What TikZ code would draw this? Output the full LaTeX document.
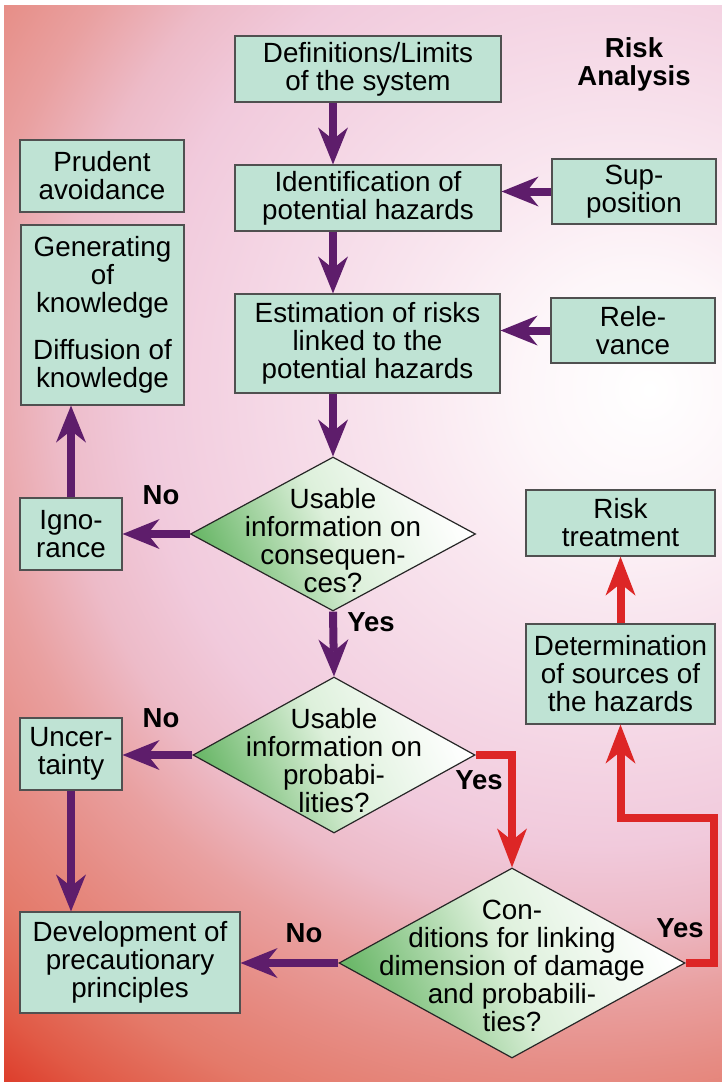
\documentclass[tikz,border=0pt]{standalone}
\usepackage{fontspec}
\setmainfont{Liberation Sans}
\usetikzlibrary{arrows.meta,shapes.geometric}
\definecolor{bgA}{HTML}{FFFFFF}
\definecolor{bgB}{HTML}{FDF6F9}
\definecolor{bgC}{HTML}{F9E6EF}
\definecolor{bgD}{HTML}{F5D8E6}
\definecolor{bgE}{HTML}{F1CADC}
\definecolor{bgF}{HTML}{EDBBC8}
\definecolor{bgG}{HTML}{E9A0A0}
\definecolor{bgH}{HTML}{E68C84}
\definecolor{bgI}{HTML}{E47A6A}
\definecolor{bgJ}{HTML}{E15A46}
\definecolor{bgK}{HTML}{DD3A28}
\definecolor{bgL}{HTML}{DC2A1C}
\definecolor{boxfill}{HTML}{BFE3D4}
\definecolor{boxline}{HTML}{505050}
\definecolor{dgreen}{HTML}{6CB86A}
\definecolor{dmid}{HTML}{DDF0DB}
\definecolor{arrpurple}{HTML}{5E1D6B}
\definecolor{arrred}{HTML}{DD2626}
\pgfdeclareradialshading{bgsh}{\pgfpoint{5bp}{-0.93bp}}{color(0bp)=(bgA); color(3bp)=(bgB); color(6bp)=(bgC); color(9bp)=(bgD); color(12bp)=(bgE); color(14bp)=(bgF); color(16bp)=(bgG); color(18bp)=(bgH); color(20bp)=(bgI); color(22bp)=(bgJ); color(23.5bp)=(bgK); color(25bp)=(bgL); color(50bp)=(bgL)}
\newcommand{\mainfs}{\fontsize{27.8}{28}\selectfont}
\newcommand{\labfs}{\fontsize{27.5}{28}\selectfont\bfseries}
\tikzset{
  box/.style={draw=boxline, line width=1.2pt, fill=boxfill, inner sep=0pt, align=center, font=\mainfs},
  dia/.style={diamond, draw=black!85, line width=1.2pt, inner sep=0pt, left color=dgreen, right color=white, middle color=dmid, shading angle=115},
  txt/.style={align=center, inner sep=0pt, font=\mainfs},
  lab/.style={inner sep=0pt, font=\labfs, align=center},
  parr/.style={draw=arrpurple, line width=8pt, -{Stealth[length=37pt,width=30pt,inset=12pt,line width=0pt]}},
  rarr/.style={draw=arrred, line width=8pt, line join=miter, -{Stealth[length=39pt,width=30pt,inset=12pt,line width=0pt]}}
}
\begin{document}
\begin{tikzpicture}[x=1pt,y=-1pt]
\useasboundingbox (0,0) rectangle (722,1082);
\fill[white] (0,0) rectangle (722,1082);
\begin{scope}
\clip (4,5) rectangle (722,1082);
\shade[shading=bgsh] (457,354) circle (965);
\end{scope}
% boxes
\node[box, minimum width=266, minimum height=66] (def) at (368,69) {Definitions/Limits\\of the system};
\node[box, minimum width=164, minimum height=72] (prud) at (102,176) {Prudent\\avoidance};
\node[box, minimum width=266, minimum height=66] (ident) at (368,198) {Identification of\\potential hazards};
\node[box, minimum width=164, minimum height=65] (sup) at (634,191.5) {Sup-\\position};
\node[box, minimum width=163, minimum height=180] (gen) at (102.5,315) {Generating\\of\\knowledge\\[19pt]Diffusion of\\knowledge};
\node[box, minimum width=265, minimum height=99] (est) at (367.5,343.5) {Estimation of risks\\linked to the\\potential hazards};
\node[box, minimum width=164, minimum height=65] (rel) at (633,330.5) {Rele-\\vance};
\node[box, minimum width=102, minimum height=72] (ign) at (71,534) {Igno-\\rance};
\node[box, minimum width=189, minimum height=66] (rt) at (620.5,523) {Risk\\treatment};
\node[box, minimum width=189, minimum height=100] (det) at (620.5,674) {Determination\\of sources of\\the hazards};
\node[box, minimum width=102, minimum height=72] (unc) at (71,754) {Uncer-\\tainty};
\node[box, minimum width=220, minimum height=101] (dev) at (130,962.5) {Development of\\precautionary\\principles};
% diamonds
\node[dia, minimum width=285, minimum height=154] (d1) at (333,534) {};
\node[txt] (d1t) at (333,541) {Usable\\information on\\consequen-\\ces?};
\node[dia, minimum width=282, minimum height=156] (d2) at (334,755) {};
\node[txt] (d2t) at (334,761) {Usable\\information on\\probabi-\\lities?};
\node[dia, minimum width=346, minimum height=190] (d3) at (512,963) {};
\node[txt] (d3t) at (512,966) {Con-\\ditions for linking\\dimension of damage\\and probabili-\\ties?};
% title and labels
\node[lab] (title) at (634,64) {Risk\\Analysis};
\node[lab] (no1) at (161,495) {No};
\node[lab] (yes1) at (371,622) {Yes};
\node[lab] (no2) at (161,718) {No};
\node[lab] (yes2) at (479,780) {Yes};
\node[lab] (no3) at (304,933) {No};
\node[lab] (yes3) at (680,928) {Yes};
\coordinate (c1) at (714,818);
% purple connectors
\draw[parr] (def.south -| d1.north) -- (ident.north -| d1.north);
\draw[parr] (ident.south -| d1.north) -- (est.north -| d1.north);
\draw[parr] (sup.west) -- (sup.west -| ident.east);
\draw[parr] (rel.west) -- (rel.west -| est.east);
\draw[parr] (est.south -| d1.north) -- (d1.north);
\draw[parr] (d1.west) -- (ign.east);
\draw[parr] (ign.north) -- (ign.north |- gen.south);
\draw[parr] (d1.south) -- (d2.north);
\draw[parr] (d2.west) -- (d2.west -| unc.east);
\draw[parr] (unc.south) -- (unc.south |- dev.north);
\draw[parr] (d3.west) -- (d3.west -| dev.east);
% red connectors
\draw[rarr] (d2.east) -| (d3.north);
\draw[rarr] (d3.east) -| (c1) -| (det.south);
\draw[rarr] (det.north) -- (rt.south);
\end{tikzpicture}
\end{document}
